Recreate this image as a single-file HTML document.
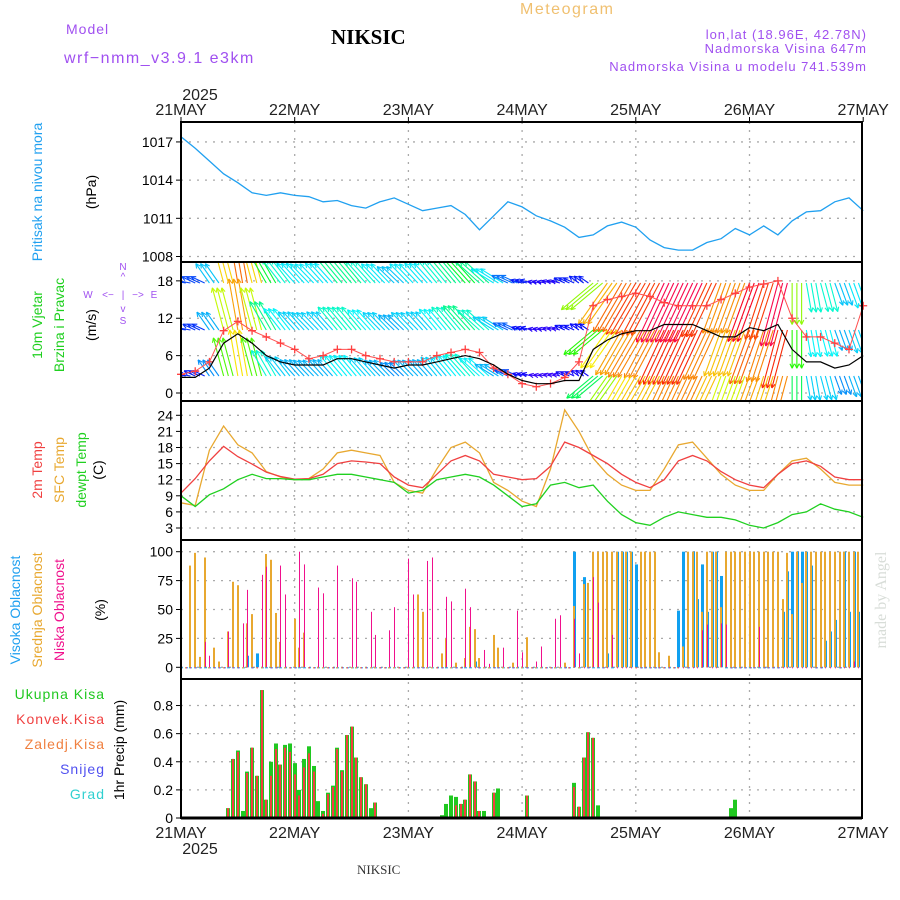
<!DOCTYPE html>
<html><head><meta charset="utf-8"><style>
html,body{margin:0;padding:0;background:#fff;}
svg{display:block;font-family:"Liberation Sans",sans-serif;}
</style></head><body>
<svg id="chart" width="900" height="900" viewBox="0 0 900 900">
<g>
<text x="66" y="34" font-size="14" fill="#a050f0" letter-spacing="1">Model</text>
<text x="64" y="63" font-size="16" fill="#a050f0" letter-spacing="1.5">wrf−nmm_v3.9.1 e3km</text>
<text x="331" y="44" font-size="21" font-weight="bold" fill="#000" font-family="Liberation Serif, serif">NIKSIC</text>
<text x="520" y="14" font-size="16" fill="#f0c070" letter-spacing="1.5">Meteogram</text>
<text x="867" y="39" font-size="13" fill="#a050f0" text-anchor="end" letter-spacing="1">lon,lat (18.96E, 42.78N)</text>
<text x="867" y="53" font-size="13" fill="#a050f0" text-anchor="end" letter-spacing="1">Nadmorska Visina 647m</text>
<text x="867" y="71" font-size="13" fill="#a050f0" text-anchor="end" letter-spacing="1">Nadmorska Visina u modelu 741.539m</text>
<text x="200" y="100" font-size="16" fill="#222" text-anchor="middle">2025</text>
<text x="200" y="854" font-size="16" fill="#222" text-anchor="middle">2025</text>
<text x="357" y="874" font-size="13" fill="#333" font-family="Liberation Serif, serif">NIKSIC</text>
<text transform="translate(886,600) rotate(-90)" font-size="16" fill="#d8ddd8" text-anchor="middle" font-family="Liberation Serif, serif">made by Angel</text>
</g>
<g>
<text transform="translate(42,192) rotate(-90)" font-size="14" fill="#20a0f0" text-anchor="middle">Pritisak na nivou mora</text>
<text transform="translate(96,192) rotate(-90)" font-size="14" fill="#000" text-anchor="middle">(hPa)</text>
<text transform="translate(42,325) rotate(-90)" font-size="14" fill="#20d020" text-anchor="middle">10m Vjetar</text>
<text transform="translate(64,325) rotate(-90)" font-size="14" fill="#20d020" text-anchor="middle">Brzina i Pravac</text>
<text transform="translate(96,325) rotate(-90)" font-size="14" fill="#000" text-anchor="middle">(m/s)</text>
<g font-size="10" fill="#a050f0" text-anchor="middle">
<text x="123" y="270">N</text><text x="123" y="280">^</text>
<text x="88" y="298">W</text><text x="108" y="298">&lt;−</text><text x="123" y="298">|</text><text x="138" y="298">−&gt;</text><text x="154" y="298">E</text>
<text x="123" y="312">v</text><text x="123" y="324">S</text></g>
<text transform="translate(42,470) rotate(-90)" font-size="14" fill="#f04040" text-anchor="middle">2m Temp</text>
<text transform="translate(64,470) rotate(-90)" font-size="14" fill="#e8a830" text-anchor="middle">SFC Temp</text>
<text transform="translate(86,470) rotate(-90)" font-size="14" fill="#20d020" text-anchor="middle">dewpt Temp</text>
<text transform="translate(103,470) rotate(-90)" font-size="14" fill="#000" text-anchor="middle">(C)</text>
<text transform="translate(20,610) rotate(-90)" font-size="14" fill="#20a0f0" text-anchor="middle">Visoka Oblacnost</text>
<text transform="translate(42,610) rotate(-90)" font-size="14" fill="#e8a830" text-anchor="middle">Srednja Oblacnost</text>
<text transform="translate(64,610) rotate(-90)" font-size="14" fill="#f0108c" text-anchor="middle">Niska Oblacnost</text>
<text transform="translate(105,610) rotate(-90)" font-size="14" fill="#000" text-anchor="middle">(%)</text>
<g font-size="14" text-anchor="end" letter-spacing="1">
<text x="105" y="699" fill="#20c820">Ukupna  Kisa</text>
<text x="105" y="724" fill="#f04040">Konvek.Kisa</text>
<text x="105" y="749" fill="#f08040">Zaledj.Kisa</text>
<text x="105" y="774" fill="#5050f0">Snijeg</text>
<text x="105" y="799" fill="#30d0d0">Grad</text></g>
<text transform="translate(124,750) rotate(-90)" font-size="14" fill="#000" text-anchor="middle">1hr Precip (mm)</text>
</g>
</svg>
<script>
const days = ["21MAY","22MAY","23MAY","24MAY","25MAY","26MAY","27MAY"];
const pressureTicks = [1008,1011,1014,1017];
const windTicks = [0,6,12,18];
const tempTicks = [3,6,9,12,15,18,21,24];
const cloudTicks = [0,25,50,75,100];
const precipTicks = [0,0.2,0.4,0.6,0.8];
// 3-hourly series (49 points)
const pressure = [1017.4,1016.5,1015.5,1014.5,1013.8,1013.0,1012.8,1013.0,1012.8,1012.7,1012.3,1012.4,1012.0,1011.8,1012.3,1012.6,1012.1,1011.6,1011.8,1012.0,1011.3,1010.1,1011.2,1012.3,1011.9,1011.2,1010.8,1010.3,1009.5,1009.7,1010.4,1010.7,1010.3,1009.3,1008.7,1008.5,1008.5,1009.1,1009.4,1010.2,1009.7,1010.4,1009.7,1010.8,1011.5,1011.6,1012.3,1012.6,1011.6];
const windSpeed = [2.5,2.5,4,8,9.5,8,6,5,4.5,4.5,4.5,5.5,5.5,5,4.5,4,4.5,4.5,5,5.5,6,5.5,4.5,3,2,1.5,1.5,2,2,7,8.5,9.5,10,10,11,11,11,10,9,9,10.5,10,11,7,5,5,4,4.5,6];
const windGust = [3,3.5,5,10,11.5,10,9,8,7,5.5,6,7,7,6,5.5,5,5,5,6,6.5,7,6.5,4,3,1.5,1,1.5,2.5,5,14,15,15.5,16,15.5,14.5,14,14,14,15,16,17,17.5,18,12,9,9,8,7,14];
const windDir = [280,295,325,345,350,345,330,322,318,316,318,320,320,318,316,314,316,318,320,320,318,312,302,295,285,280,285,295,305,230,215,210,210,208,205,205,205,205,200,200,200,198,195,180,170,165,160,160,175];
const temp2m = [9.5,12.2,15.5,18.2,16.3,14.9,13.4,12.6,12.1,12.2,13,15,15.5,15.3,15,12.5,11,10.5,13,15.5,16.5,15.5,13,12.5,12,12.2,14.5,19,18,16.5,15,13,11.5,10.5,12,15.5,16.5,15.5,13.5,12,11,10.5,13,15,15.5,14.5,12.5,12,12];
const tempSfc = [7.7,7.2,17.5,22,18.5,17,13.5,12.5,12,12.2,14,17,17.5,17,16.5,11.5,10,9.5,14,18,19,17,11.5,10,8,7,14,25,21,16,13,11,10,10,14,18.5,19,16,13,11,10,10,13,15.5,16,14,11.5,11,11];
const tempDew = [9,7,9.2,10.3,12,13,12.2,12.2,12,12,12.5,13,13,12.5,12,11.5,9.5,10,12,12.5,13,12.5,11,9,7,7.5,11,11.5,10.5,11,8,5.5,4,3.5,5,6,5.5,5,5,4.5,3.5,3,4,5.5,6,7.5,6.5,6,5];
// hourly series (144 points)
const cloudHigh = [].concat(
[0,0,0,0,0,0,0,0,0,0,0,0,0,0,10,0,12,0,0,0,0,0,0,0],
[0,0,0,0,0,0,0,0,0,0,0,0,0,0,0,0,0,0,0,0,0,0,0,0],
[0,0,0,0,0,0,0,0,0,0,0,0,0,0,5,0,0,0,0,0,0,0,0,0],
[0,0,0,0,0,0,0,0,0,0,0,100,0,78,0,0,0,0,12,0,100,100,100,100],
[89,0,0,0,0,0,0,0,0,49,100,0,100,59,89,48,100,100,79,0,0,0,0,0],
[0,0,0,0,0,0,0,48,83,100,100,100,100,88,0,0,23,31,41,0,100,48,100,48]);
const cloudMid = [].concat(
[0,0,88,99,9,95,0,17,5,0,31,74,71,0,38,46,0,0,98,93,47,22,0,0],
[42,17,30,0,0,0,0,0,0,0,0,0,0,0,0,0,0,0,0,0,0,0,0,0],
[0,0,63,48,0,0,0,12,25,0,4,0,8,35,33,8,0,0,28,17,0,0,4,0],
[0,26,0,0,0,0,0,0,0,4,0,53,0,72,73,100,100,100,100,100,100,100,100,100],
[0,100,100,100,100,13,0,10,0,0,18,100,100,100,48,100,100,100,52,100,100,100,100,100],
[100,100,100,100,100,100,100,59,99,46,100,73,100,100,100,100,100,100,100,100,100,100,100,100]);
const cloudLow = [].concat(
[0,0,0,0,0,22,10,0,0,0,31,0,0,38,67,0,0,80,87,0,0,88,63,0],
[0,100,89,0,0,69,64,0,0,88,0,0,77,74,0,0,48,28,0,0,32,52,0,0],
[94,63,0,0,92,95,0,0,61,57,0,0,68,52,0,0,15,3,0,0,17,0,0,49],
[13,0,0,5,18,0,0,42,45,0,0,42,12,0,0,78,56,0,0,28,0,0,0,0],
[0,0,0,0,0,0,0,0,0,0,0,0,0,0,32,37,0,0,38,37,0,0,0,0],
[0,0,35,0,0,0,0,0,0,0,0,0,0,0,0,0,0,0,0,0,0,0,5,0]);
const precipTotal = [].concat(
[0,0,0,0,0.01,0,0,0,0,0,0.07,0.42,0.48,0.05,0.33,0.50,0.30,0.91,0.13,0.40,0.53,0.38,0.52,0.53],
[0.39,0.20,0.42,0.51,0.37,0.12,0.05,0.18,0.23,0.50,0.34,0.59,0.65,0.43,0.29,0.24,0.07,0.11,0.01,0.01,0,0,0,0],
[0,0,0,0,0,0,0.01,0.02,0.10,0.16,0.15,0.10,0.13,0.31,0.26,0.05,0.05,0,0.18,0.21,0,0,0,0],
[0,0.16,0,0,0,0,0,0.01,0,0.01,0,0.25,0.08,0.43,0.61,0.57,0.09,0,0,0,0,0,0,0],
[0,0,0,0,0,0,0,0,0,0,0,0,0,0,0,0,0,0,0,0,0.07,0.13,0,0],
[0,0,0,0,0,0,0,0,0,0,0,0,0,0,0,0,0,0,0,0,0,0,0,0]);
const precipConv = [].concat(
[0,0,0,0,0.01,0,0,0,0,0,0.07,0.42,0.47,0,0.32,0.50,0.30,0.91,0.13,0.30,0.49,0.38,0.50,0.47],
[0.31,0.16,0.36,0.46,0.33,0,0.03,0.17,0.22,0.49,0.33,0.59,0.65,0.43,0.29,0.24,0,0.11,0,0.01,0,0,0,0],
[0,0,0,0,0,0,0,0,0,0,0.09,0.10,0.13,0.31,0.26,0.05,0,0,0.18,0,0,0,0,0],
[0,0.16,0,0,0,0,0,0,0,0,0,0.22,0.08,0.43,0.61,0.57,0,0,0,0,0,0,0,0],
[0,0,0,0,0,0,0,0,0,0,0,0,0,0,0,0,0,0,0,0,0,0,0,0],
[0,0,0,0,0,0,0,0,0,0,0,0,0,0,0,0,0,0,0,0,0,0,0,0]);

const NS="http://www.w3.org/2000/svg";
const svg=document.getElementById('chart');
function mk(tag,attrs,parent){const e=document.createElementNS(NS,tag);for(const k in attrs)e.setAttribute(k,attrs[k]);(parent||svg).appendChild(e);return e;}
const X0=181, HOURPX=4.7375;
const xH=h=>X0+h*HOURPX;
const x3=i=>xH(i*3);
const yP=p=>256.5-(p-1008)*12.73;
const yW=s=>393-s*6.23;
const yT=t=>528-(t-3)*5.367;
const yC=c=>667.3-c*1.156;
const yR=v=>818-v*140.6;
const panels=[[122,262,pressureTicks,yP,v=>v],[262,401,windTicks,yW,v=>v],[401,540,tempTicks,yT,v=>v],[540,679,cloudTicks,yC,v=>v],[679,818,precipTicks,yR,v=>v===0?'0':v.toFixed(1)]];
const names=['pressure','wind','temp','cloud','precip'];
const grid=mk('g',{});


panels.forEach((p,pi)=>{
  p[2].forEach(v=>{
    const y=p[3](v);
    const ln=mk('line',{x1:181,x2:862,y1:y,y2:y,stroke:'#aaa','stroke-dasharray':'2,6','stroke-width':1.3},grid);
    
    
    mk('line',{x1:176,x2:181,y1:y,y2:y,stroke:'#000'},grid);
    const t=mk('text',{x:173,y:y+5,'font-size':14,'text-anchor':'end',fill:'#000'},grid);
    t.textContent=p[4](v);
    
    
  });
});
days.forEach((d,i)=>{
  const x=X0+i*24*HOURPX;
  if(i>0&&i<6){const v=mk('line',{x1:x,x2:x,y1:122,y2:818,stroke:'#aaa','stroke-dasharray':'2,6','stroke-width':1.3},grid);
    
    }
  mk('line',{x1:x,x2:x,y1:117,y2:122,stroke:'#000'},grid);
  const t=mk('text',{x:x,y:115,'font-size':16,'text-anchor':'middle',fill:'#222'},grid);t.textContent=d;
  
  
  const b=mk('text',{x:x,y:838,'font-size':16,'text-anchor':'middle',fill:'#222'},grid);b.textContent=d;
  
  
});
function line(arr,yf,color,name,w){
  const pts=arr.map((v,i)=>x3(i).toFixed(1)+','+yf(v).toFixed(1)).join(' ');
  const l=mk('polyline',{points:pts,fill:'none',stroke:color,'stroke-width':w||1.3});
  
  
  return l;
}
line(pressure,yP,'#20a0f0','pressure-line');
// wind colour scale (speed -> hue)
const hueStops=[[0,280],[2,240],[4,200],[5,185],[6,160],[7,120],[8,80],[9,50],[10,35],[11,20],[12,345],[14,330]];
function windHue(s){
  if(s<=hueStops[0][0])return hueStops[0][1];
  for(let i=1;i<hueStops.length;i++){if(s<=hueStops[i][0]){const a=hueStops[i-1],b=hueStops[i];let h2=b[1];if(h2-a[1]>180)h2-=360;const f=(s-a[0])/(b[0]-a[0]);return (a[1]+(h2-a[1])*f+360)%360;}}
  return hueStops[hueStops.length-1][1];
}
mk('clipPath',{id:'wclip'}).appendChild(document.createElementNS(NS,'rect'));
const cr=svg.querySelector('#wclip rect');cr.setAttribute('x',181);cr.setAttribute('y',263);cr.setAttribute('width',681);cr.setAttribute('height',137);
const wg=mk('g',{'clip-path':'url(#wclip)'});


const rows=[[283,1.12],[330,1.03],[376,0.93]];
rows.forEach(r=>{
  windSpeed.forEach((s0,i)=>{
    if(i===48)return;
    for(let k=0;k<3;k++){
      const s=s0*r[1];const a=windDir[i]*Math.PI/180;const L=s*5.3;
      const x1=xH(i*3+k),y1=r[0];const x2=x1+Math.sin(a)*L,y2=y1-Math.cos(a)*L;
      const c='hsl('+windHue(s).toFixed(0)+',95%,50%)';
      const g=mk('g',{stroke:c,'stroke-width':1.1,fill:'none'},wg);
      
      
      mk('line',{x1:x1,y1:y1,x2:x2,y2:y2},g);
      const ha=0.45,hl=5;
      [a+Math.PI-ha,a+Math.PI+ha].forEach(b=>mk('line',{x1:x2,y1:y2,x2:x2+Math.sin(b)*hl,y2:y2-Math.cos(b)*hl},g));
    }
  });
});
line(windGust,yW,'#ff5050','wind-gust-line',1);
windGust.forEach((v,i)=>{const x=x3(i),y=yW(v);
  const p=mk('path',{d:`M${x-4},${y}h8M${x},${y-4}v8`,stroke:'#ff4040','stroke-width':1.3});
  
  });
line(windSpeed,yW,'#000','wind-speed-line',1.2);
// temps
line(tempSfc,yT,'#e8a830','sfc-temp-line');
line(temp2m,yT,'#f04040','temp-2m-line');
line(tempDew,yT,'#20d020','dewpoint-line');
// clouds & precip
for(let h=0;h<144;h++){
  const x=Math.round(xH(h));
  [[cloudHigh,'#10a0f0',3,'cloud-high-bar'],[cloudMid,'#e8a830',2,'cloud-mid-bar'],[cloudLow,'#f0108c',1,'cloud-low-bar']].forEach(c=>{
    const v=c[0][h];const y=yC(v);
    const r=mk('rect',{x:x-Math.floor(c[2]/2),y:y,width:c[2],height:Math.max(yC(0)-y,1),fill:c[1]});
    
    
  });
  const t=precipTotal[h],cv=precipConv[h];
  if(t>0){const y=yR(t);const r=mk('rect',{x:x-2,y:y,width:4,height:818-y,fill:'#20c820'});
    
    }
  if(cv>0){const y=yR(cv);const r=mk('rect',{x:x-1,y:y,width:2,height:818-y,fill:'#f04040'});
    
    }
}
// borders
const bd=mk('g',{stroke:'#000','stroke-width':2,fill:'none'});


mk('rect',{x:181,y:122,width:681,height:696},bd);
[262,401,540,679].forEach(y=>mk('line',{x1:181,x2:862,y1:y,y2:y},bd));
mk('line',{x1:181,x2:862,y1:818,y2:818,'stroke-width':3},bd);
</script>
</body></html>
